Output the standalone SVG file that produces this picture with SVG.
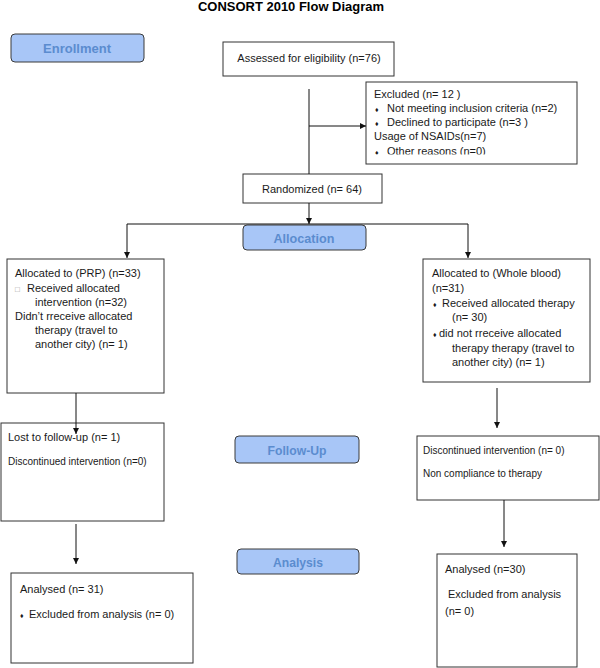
<svg xmlns="http://www.w3.org/2000/svg" width="600" height="668" viewBox="0 0 600 668">
<style>
.box{fill:#fff;stroke:#333;stroke-width:1}
.phase{fill:#a8c6f7;stroke:#3a3a3a;stroke-width:1}
.pt{font-family:"Liberation Sans",Arial,sans-serif;font-weight:bold;font-size:13.5px;fill:#5b8ccf;text-anchor:middle}
.t{font-family:"Liberation Sans",Arial,sans-serif;font-size:11px;fill:#1a1a1a}
.s{font-family:"Liberation Sans",Arial,sans-serif;font-size:10px;fill:#1a1a1a}
.b{font-size:7px}
.ln{stroke:#111;stroke-width:1;fill:none}
</style>
<defs>
<marker id="ah" markerWidth="8" markerHeight="8" refX="6" refY="3" orient="auto" markerUnits="userSpaceOnUse">
<path d="M0,0 L6,3 L0,6 z" fill="#111"/>
</marker>
<clipPath id="exclip"><rect x="366" y="82" width="212" height="72.5"/></clipPath>
</defs>
<text x="291" y="11" font-family="Liberation Sans,Arial,sans-serif" font-weight="bold" font-size="13.5" fill="#000" text-anchor="middle" textLength="186" lengthAdjust="spacingAndGlyphs">CONSORT 2010 Flow Diagram</text>

<g id="enrollment">
<rect class="phase" x="11" y="34" width="133" height="28" rx="4"/>
<text class="pt" x="77" y="53" textLength="68" lengthAdjust="spacingAndGlyphs">Enrollment</text>
</g>

<g id="assessed">
<rect class="box" x="223" y="42" width="171" height="34"/>
<text class="t" x="309" y="62" text-anchor="middle">Assessed for eligibility (n=76)</text>
</g>

<g id="excluded">
<rect class="box" x="366" y="82" width="211" height="82"/>
<g clip-path="url(#exclip)">
<text class="t" x="374" y="98">Excluded  (n= 12 )</text>
<text class="t" x="375" y="112"><tspan class="b">♦</tspan><tspan x="387">Not meeting inclusion criteria (n=2)</tspan></text>
<text class="t" x="375" y="126"><tspan class="b">♦</tspan><tspan x="387">Declined to participate (n=3 )</tspan></text>
<text class="t" x="374" y="140">Usage of NSAIDs(n=7)</text>
<text class="t" x="375" y="155"><tspan class="b">♦</tspan><tspan x="387">Other reasons (n=0)</tspan></text>
</g>
</g>

<g id="randomized">
<rect class="box" x="243" y="174" width="139" height="29"/>
<text class="t" x="312" y="193" text-anchor="middle">Randomized (n= 64)</text>
</g>

<g id="allocation">
<rect class="phase" x="243" y="225" width="123" height="25" rx="4"/>
<text class="pt" x="304" y="243" textLength="61" lengthAdjust="spacingAndGlyphs">Allocation</text>
</g>

<g id="prp">
<rect class="box" x="7" y="259" width="157" height="134"/>
<text class="t" x="15" y="277">Allocated to (PRP) (n=33)</text>
<text class="t" x="15" y="292"><tspan font-size="8" fill="#999">□</tspan><tspan x="27">Received allocated</tspan></text>
<text class="t" x="35" y="306">intervention (n=32)</text>
<text class="t" x="15" y="320">Didn’t rreceive allocated</text>
<text class="t" x="35" y="334">therapy  (travel to</text>
<text class="t" x="35" y="348">another city) (n= 1)</text>
</g>

<g id="wholeblood">
<rect class="box" x="423" y="259" width="167" height="123"/>
<text class="t" x="432" y="277">Allocated to (Whole blood)</text>
<text class="t" x="432" y="292">(n=31)</text>
<text class="t" x="433" y="307"><tspan class="b">♦</tspan><tspan x="442">Received allocated therapy</tspan></text>
<text class="t" x="452" y="321">(n= 30)</text>
<text class="t" x="433" y="337"><tspan class="b">♦</tspan><tspan x="439">did not rreceive allocated</tspan></text>
<text class="t" x="452" y="352">therapy therapy (travel to</text>
<text class="t" x="452" y="366">another city) (n= 1)</text>
</g>

<g id="lost">
<rect class="box" x="1" y="423" width="163" height="98"/>
<text class="t" x="8" y="441">Lost to follow-up (n= 1)</text>
<text class="s" x="8" y="465">Discontinued intervention (n=0)</text>
</g>

<g id="followup">
<rect class="phase" x="235" y="436" width="124" height="27" rx="4"/>
<text class="pt" x="297" y="455" textLength="59" lengthAdjust="spacingAndGlyphs">Follow-Up</text>
</g>

<g id="discontinued">
<rect class="box" x="417" y="436" width="182" height="64"/>
<text class="s" x="423" y="454">Discontinued intervention  (n= 0)</text>
<text class="s" x="423" y="477">Non compliance to therapy</text>
</g>

<g id="analysis">
<rect class="phase" x="237" y="549" width="122" height="25" rx="4"/>
<text class="pt" x="298" y="567" textLength="50" lengthAdjust="spacingAndGlyphs">Analysis</text>
</g>

<g id="analysedleft">
<rect class="box" x="11" y="573" width="182" height="90"/>
<text class="t" x="20" y="593">Analysed  (n= 31)</text>
<text class="t" x="20" y="618"><tspan class="b">♦</tspan><tspan x="29">Excluded from analysis (n= 0)</tspan></text>
</g>

<g id="analysedright">
<rect class="box" x="437" y="554" width="140" height="113"/>
<text class="t" x="445" y="573">Analysed  (n=30)</text>
<text class="t" x="448" y="598">Excluded from analysis</text>
<text class="t" x="445" y="615">(n= 0)</text>
</g>

<g id="connectors">
<line class="ln" x1="309" y1="89" x2="309" y2="174"/>
<line class="ln" x1="309" y1="126" x2="366" y2="126" marker-end="url(#ah)"/>
<line class="ln" x1="309" y1="203" x2="309" y2="224" marker-end="url(#ah)"/>
<polyline class="ln" points="127,224 468,224"/>
<line class="ln" x1="127" y1="224" x2="127" y2="258" marker-end="url(#ah)"/>
<line class="ln" x1="468" y1="224" x2="468" y2="258" marker-end="url(#ah)"/>
<line class="ln" x1="76" y1="393" x2="76" y2="434" marker-end="url(#ah)"/>
<line class="ln" x1="76" y1="524" x2="76" y2="564" marker-end="url(#ah)"/>
<line class="ln" x1="497" y1="388" x2="497" y2="428" marker-end="url(#ah)"/>
<line class="ln" x1="504" y1="500" x2="504" y2="547" marker-end="url(#ah)"/>
</g>
</svg>
